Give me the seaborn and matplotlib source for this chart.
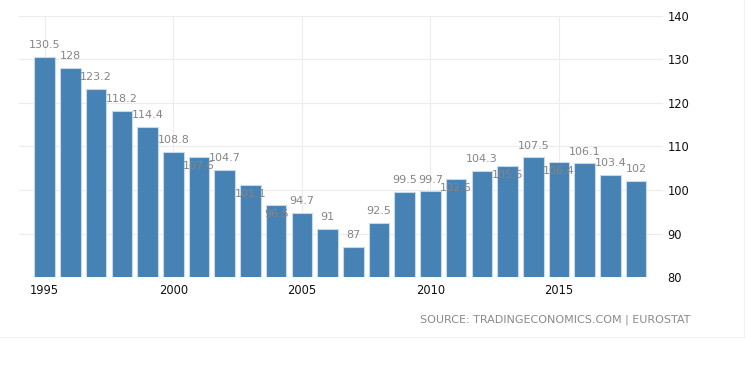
import matplotlib
matplotlib.use("Agg")
import matplotlib.pyplot as plt
from matplotlib.lines import Line2D
import seaborn as sns
import pandas as pd

years = list(range(1995, 2019))
values = [130.5, 128, 123.2, 118.2, 114.4, 108.8, 107.6, 104.7, 101.1, 96.5,
          94.7, 91, 87, 92.5, 99.5, 99.7, 102.6, 104.3, 105.5, 107.5,
          106.4, 106.1, 103.4, 102]
# label placement: True = above bar, False = just inside bar top
label_above = [True, True, True, True, True, True, False, True, False, False,
               True, True, True, True, True, True, False, True, False, True,
               False, True, True, True]
year_ticks = [1995, 2000, 2005, 2010, 2015]
y_ticks = [80, 90, 100, 110, 120, 130, 140]

sns.set_style("white")
plt.rcParams['font.family'] = ['DejaVu Sans']

df = pd.DataFrame({"year": [str(y) for y in years], "value": values})

fig = plt.figure(figsize=(7.46, 3.77), dpi=100)
# faint panel frame (right and bottom edges only)
fig.lines.append(Line2D([0.0, 0.997], [0.106, 0.106], transform=fig.transFigure,
                        color="#f2f2f2", linewidth=0.8))
fig.lines.append(Line2D([0.997, 0.997], [0.106, 1.0], transform=fig.transFigure,
                        color="#f2f2f2", linewidth=0.8))
ax = fig.add_axes([0.0255, 0.265, 0.8635, 0.693])

sns.barplot(data=df, x="year", y="value", color="#4682b4", saturation=1,
            width=0.8, edgecolor="#c7d9ea", linewidth=0.8, ax=ax, zorder=2)

ax.set_ylim(80, 140)
ax.set_xlim(-1, 24.05)
ax.set_yticks(y_ticks)
ax.yaxis.tick_right()
ax.tick_params(axis='y', length=0, pad=3, labelsize=8.3, labelcolor="#111111")
tick_pos = [years.index(y) for y in year_ticks]
ax.set_xticks(tick_pos)
ax.set_xticklabels([str(y) for y in year_ticks])
ax.tick_params(axis='x', length=0, pad=5, labelsize=8.3, labelcolor="#111111")
ax.set_xlabel("")
ax.set_ylabel("")

ax.grid(True, color="#ececec", linewidth=0.8, zorder=0)
ax.set_axisbelow(True)
for s in ax.spines.values():
    s.set_visible(False)

for i, (v, above) in enumerate(zip(values, label_above)):
    txt = f"{v:g}"
    off = 8.5 if above else -6.5
    ax.annotate(txt, xy=(i, v), xytext=(0, off), textcoords="offset points",
                ha="center", va="center", fontsize=8, color="#858585",
                zorder=3)

fig.text(0.925, 0.151, "SOURCE: TRADINGECONOMICS.COM | EUROSTAT",
         ha="right", va="center", fontsize=8, color="#8a8a8a",
         family=['Liberation Sans Narrow', 'DejaVu Sans'])

fig.savefig("out.png", dpi=100)
